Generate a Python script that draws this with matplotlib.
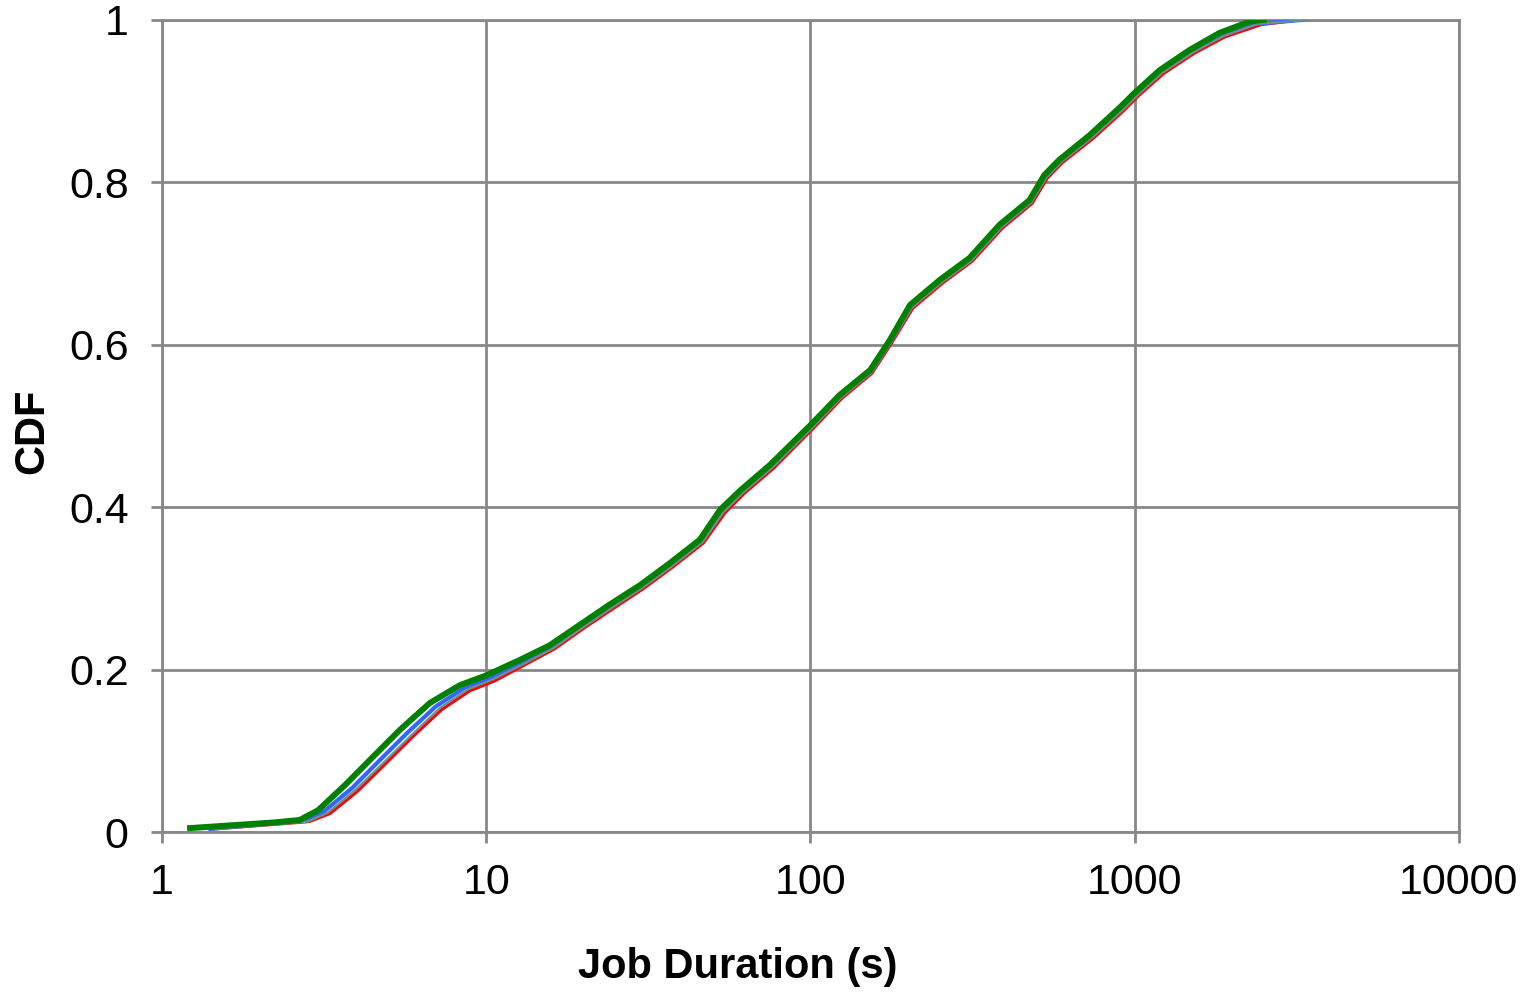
import matplotlib.pyplot as plt
from matplotlib.ticker import FixedLocator, FixedFormatter, NullLocator

plt.rcParams['font.family'] = ['Liberation Sans', 'DejaVu Sans']

# job duration (s) and CDF
green_x = [1.22, 2.23, 2.66, 3.03, 3.67, 4.38, 5.42, 6.7, 8.3, 10, 12.7, 15.7, 19.4, 24, 29.8,
           36.8, 45.6, 52.7, 60.9, 75, 100, 123, 153, 176, 203, 251, 310, 384, 474, 527, 587,
           727, 900, 1000, 1195, 1480, 1830, 2270, 2500]
green_y = [0.005, 0.012, 0.015, 0.027, 0.058, 0.089, 0.126, 0.159, 0.181, 0.193, 0.212, 0.230,
           0.255, 0.280, 0.304, 0.331, 0.360, 0.397, 0.421, 0.452, 0.501, 0.538, 0.569, 0.606,
           0.649, 0.680, 0.707, 0.748, 0.778, 0.809, 0.828, 0.858, 0.892, 0.910, 0.938, 0.963,
           0.984, 0.998, 1.0]

blue_x = [1.41, 2.25, 2.75, 3.15, 3.85, 4.6, 5.7, 7.0, 8.6, 10.3, 13.0, 16.0, 19.7, 24.4, 30.2,
          37.3, 46.2, 53.5, 61.5, 76, 101, 124, 154, 177, 205, 253, 313, 388, 478, 532, 592,
          735, 910, 1010, 1210, 1500, 1860, 2350, 3300]
blue_y = [0.004, 0.011, 0.014, 0.025, 0.054, 0.085, 0.122, 0.155, 0.178, 0.190, 0.210, 0.228,
          0.253, 0.278, 0.302, 0.329, 0.358, 0.395, 0.419, 0.450, 0.499, 0.536, 0.567, 0.604,
          0.647, 0.678, 0.705, 0.746, 0.776, 0.807, 0.826, 0.856, 0.890, 0.908, 0.936, 0.961,
          0.981, 0.995, 1.0]

red_x = [1.45, 2.3, 2.85, 3.3, 4.0, 4.8, 5.95, 7.3, 8.9, 10.6, 13.3, 16.3, 20.0, 24.8, 30.6,
         37.8, 46.8, 54.5, 62.5, 77, 102, 125, 155, 178, 207, 256, 316, 392, 483, 538, 598,
         745, 925, 1025, 1230, 1530, 1900, 2450, 3250]
red_y = [0.004, 0.010, 0.013, 0.023, 0.050, 0.081, 0.118, 0.151, 0.174, 0.186, 0.207, 0.226,
         0.251, 0.276, 0.300, 0.327, 0.356, 0.393, 0.417, 0.448, 0.497, 0.534, 0.565, 0.602,
         0.645, 0.676, 0.703, 0.744, 0.774, 0.805, 0.824, 0.854, 0.888, 0.906, 0.934, 0.959,
         0.979, 0.994, 1.0]

gray_x = [1.45, 2.3, 2.82, 3.25, 3.95, 4.75, 5.9, 7.2, 8.8, 10.5, 13.2, 16.2, 19.9, 24.6, 30.4,
          37.6, 46.5, 54.0, 62.0, 76.5, 101.5, 124.5, 154.5, 177.5, 206, 255, 315, 390, 480,
          535, 595, 740, 920, 1020, 1220, 1520, 1880, 2400, 3450]
gray_y = [0.004, 0.010, 0.013, 0.024, 0.052, 0.083, 0.120, 0.153, 0.176, 0.188, 0.208, 0.227,
          0.252, 0.277, 0.301, 0.328, 0.357, 0.394, 0.418, 0.449, 0.498, 0.535, 0.566, 0.603,
          0.646, 0.677, 0.704, 0.745, 0.775, 0.806, 0.825, 0.855, 0.889, 0.907, 0.935, 0.960,
          0.980, 0.995, 1.0]

x_ticks = [1, 10, 100, 1000, 10000]
x_labels = ['1', '10', '100', '1000', '10000']
y_ticks = [0, 0.2, 0.4, 0.6, 0.8, 1]
y_labels = ['0', '0.2', '0.4', '0.6', '0.8', '1']

fig = plt.figure(figsize=(15.29, 9.93), dpi=100)
ax = fig.add_axes([0.106, 0.162, 0.848, 0.818])

ax.plot(red_x, red_y, color='#ff0000', lw=2.2, zorder=3)
ax.plot(blue_x, blue_y, color='#3366ff', lw=3.0, zorder=4)
ax.plot(gray_x, gray_y, color='#6b8f8f', lw=1.6, zorder=5)
ax.plot(green_x, green_y, color='#008000', lw=4.3, zorder=6)

ax.set_xscale('log')
ax.set_xlim(1, 10000)
ax.set_ylim(0, 1)
ax.xaxis.set_major_locator(FixedLocator(x_ticks))
ax.xaxis.set_major_formatter(FixedFormatter(x_labels))
ax.xaxis.set_minor_locator(NullLocator())
ax.set_yticks(y_ticks)
ax.set_yticklabels(y_labels)

ax.grid(True, color='#888888', lw=2.0, zorder=1)
ax.set_axisbelow(True)
for s in ax.spines.values():
    s.set_color('#888888')
    s.set_linewidth(2.0)
ax.tick_params(axis='both', colors='#888888', width=2.0, length=8, labelcolor='black',
               labelsize=31)
ax.tick_params(axis='x', pad=14)
ax.tick_params(axis='y', pad=16)

ax.set_xlabel('Job Duration (s)', fontsize=30, fontweight='bold')
ax.xaxis.set_label_coords(0.444, -0.142)
ax.set_ylabel('CDF', fontsize=30, fontweight='bold')
ax.yaxis.set_label_coords(-0.085, 0.493)

fig.savefig('out.png', dpi=100)
